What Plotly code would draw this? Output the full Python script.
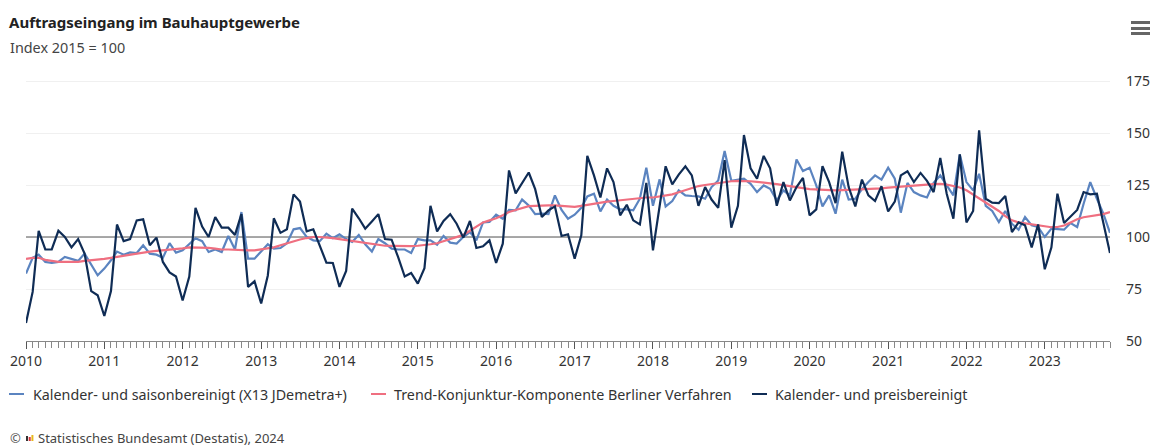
import plotly.graph_objects as go
import pandas as pd

W, H = 1153, 446
L, R, T, B = 26, 1110, 78, 341

months = pd.date_range("2010-01-01", "2023-11-01", freq="MS")

preis = [58.6,73.6,103,94,94,103,100,95,99,92,74,72,
 62,74,106,98,99,108,108.5,96,99.7,88,83,81,
 69.5,81,114,105,100,109.6,104.5,104.5,101,111,76,78.7,
 68,81.5,109,102,103.7,120.5,117,102.7,103.7,96,87.7,87.5,
 76,83.7,113.6,109,104,107.5,111,99,98.7,90.4,81,82.7,
 77.6,85,115,102.7,107.7,111,106.4,99.7,107.7,94.7,95.5,98.4,
 87.5,96.8,132,121,125.6,131,123,109.6,112.8,114.7,100.5,101.3,
 89.6,100.8,139,129.6,119,133,126.4,110.4,115.5,108,106,126,
 93.6,114,134,125.3,130,134,129.6,115,124,118,114,137,
 104.5,115,149,133,128,139,133,115,126.4,117.6,124,128.4,
 110.4,113.3,134,126.4,116.3,141,124,114.7,127.6,120,117.3,124.4,
 112.3,117,129.6,131.6,126.4,130.8,127,121.6,138,120.8,108.8,139.7,
 107,112.5,151.3,118.4,116.5,116.3,119.7,102.4,107,105.6,95,106,
 84.5,95,120.8,106.7,110,113,121.6,120.5,120.8,106.4,92.3]

saison = [82.4,90,91.5,88,87.5,88,90.4,89.6,88.5,92,87,81.6,
 84.8,88.8,93,91.5,92.6,92.3,96,92,91.5,90,97,92.5,
 93.6,96.8,99.4,98,92.8,94,92.8,100.5,94,112,89.6,89.6,
 93,96.5,94.4,94.7,97,103.7,104.3,100,98.4,98,101.6,99.4,
 101.3,99,97.6,101,96.5,93,99,97,94.4,94,94,92.3,
 99,98.4,98.4,96.3,100.5,97.3,96.8,100,102.4,98.4,107,107.2,
 110.7,108.8,113,112.8,118,115.2,111,111.2,111,120,113,108.8,
 110.7,114,119.5,120.8,112.3,118,115,113.3,113.3,112.8,118.4,133.3,
 115,127.7,114.7,117.3,122.4,120,119.7,119.5,118.4,124,127.2,141.3,
 127,127.6,128,125.6,121.6,124.8,123.2,117.6,122.4,120,137.3,131.7,
 133.3,124.8,114.7,120,111.2,127.6,118,118.4,123,126.4,129.6,127.6,
 133.3,128,111.7,126,121.6,120,119,126,129.6,124.8,120,139.7,
 126.4,122.4,130.4,115,112.5,107.2,112.5,106.4,103.5,109.6,105.6,104.8,
 100,104,103.7,103.5,106.7,104.8,116,126.4,118.4,111.2,102]

trend = [89.5,90,90,89,88.5,88,88,88,88,88.5,88.8,89,
 89.5,90,90.5,91,91.5,92,92.5,93,93.3,93.6,94,94,
 94.5,95,95,95,94.8,94.4,94,94,93.8,93.7,93.6,93.6,
 94,94.5,95,96,97,98,98.8,99.5,100,100,99.8,99.5,
 99,98.5,98,97.5,97,96.5,96,95.8,95.7,95.6,95.6,95.6,
 95.8,96,96.5,97,98,99,100,101,103,105,107,108,
 109,110.5,112,113,114,114.8,115,115.2,115.2,115.2,115,115,
 114.5,115,115.5,116,116.5,117,117.3,117.7,118,118.4,118.8,119,
 119,119.4,120,120.5,121.5,122.5,123.5,124.5,125,125.5,126,126.5,
 126.8,127,127,126.8,126.5,126,125.8,125.4,125,124.5,124,123.5,
 123,122.8,122.6,122.5,122.4,122.5,122.6,122.8,123,123,123.2,123.4,
 123.7,124,124.2,124.5,124.8,125,125.2,125.4,125.5,125.2,124.5,123.8,
 122.5,120.5,118.5,116.5,114.5,112.5,110,108,107,106.5,106,105.6,
 105,104.7,104.8,105.5,107,108.5,109.5,110,110.3,111,112]

year_ticks = [f"{y}-01-01" for y in range(2010, 2024)]
year_labels = [str(y) for y in range(2010, 2024)]
y_ticks = [50, 75, 100, 125, 150, 175]
reference_level = [100, 100]

names = ["Kalender- und saisonbereinigt (X13 JDemetra+)",
         "Trend-Konjunktur-Komponente Berliner Verfahren",
         "Kalender- und preisbereinigt"]
colors = ["#5b84c0", "#ef6f80", "#0f2c55"]
FONT = "Noto Sans"
TXT = "#333333"

fig = go.Figure()
fig.add_trace(go.Scatter(x=[months[0], months[-1]], y=reference_level, mode="lines",
                         line=dict(color="#8c8c8c", width=1.5), showlegend=False, hoverinfo="skip"))
for name, vals, col in zip(names, [saison, trend, preis], colors):
    fig.add_trace(go.Scatter(x=months, y=vals, name=name, mode="lines",
                             line=dict(color=col, width=2.2), showlegend=False,
                             hovertemplate="%{x|%b %Y}: %{y}<extra>" + name + "</extra>"))

def px(x): return (x - L) / (R - L)
def py(y): return (B - y) / (B - T)

anns, shapes = [], []
def text(x, y, s, size, color=TXT):
    anns.append(dict(text=s, x=px(x), y=py(y), xref="paper", yref="paper",
                     xanchor="left", yanchor="middle", showarrow=False,
                     font=dict(family=FONT, size=size, color=color)))
def rect(x0, y0, x1, y1, color):
    shapes.append(dict(type="rect", xref="paper", yref="paper", layer="above",
                       x0=px(x0), x1=px(x1), y0=py(y0), y1=py(y1),
                       fillcolor=color, line_width=0))

text(7, 22, "<b>Auftragseingang im Bauhauptgewerbe</b>", 15, "#222222")
text(8, 47, "Index 2015 = 100", 14.4, "#444444")
text(8, 438, "©", 13, "#555555")
text(36, 438, "Statistisches Bundesamt (Destatis), 2024", 13, "#444444")
for x0, x1, y0, c in [(26, 28, 436, "#333333"), (28.7, 30.7, 437, "#d9343a"), (31.4, 33.4, 435, "#e8b81e")]:
    rect(x0, y0, x1, 441, c)
for y0 in (21, 27, 32):
    rect(1131, y0, 1150, y0 + 3, "#666666")

leg_pos = [(9, 31), (371, 392), (752, 773)]
for (lx, tx), name, col in zip(leg_pos, names, colors):
    rect(lx, 393.0, lx + 15, 395.0, col)
    text(tx, 394, name, 14.3, "#333333")

fig.update_layout(
    width=W, height=H, autosize=False,
    margin=dict(l=L, r=W - R, t=T, b=H - B, pad=0),
    paper_bgcolor="white", plot_bgcolor="white",
    font=dict(family=FONT, color=TXT, size=14),
    annotations=anns, shapes=shapes, showlegend=False,
    hovermode="x unified",
    xaxis=dict(range=["2010-01-01", "2023-11-01"], tickmode="array", automargin=False,
               tickvals=year_ticks, ticktext=year_labels,
               ticks="outside", ticklen=7, tickwidth=1, tickcolor="#555555",
               minor=dict(dtick="M1", ticks="outside", ticklen=6, tickwidth=1, tickcolor="#888888", showgrid=False),
               showline=True, linecolor="#888888", linewidth=1, showgrid=False, zeroline=False,
               tickfont=dict(family=FONT, size=14, color="#333333")),
    yaxis=dict(range=[50, 176.44], side="right", tickmode="array", tickvals=y_ticks, automargin=False,
               showgrid=True, gridcolor="#f0f0f0", gridwidth=1, zeroline=False,
               showline=False, ticks="", ticklabelstandoff=15,
               tickfont=dict(family=FONT, size=14, color="#333333")),
)
fig.write_html("out.html", config=dict(displayModeBar=False),
               post_script="document.body.style.margin='0';document.body.style.overflow='hidden';")
